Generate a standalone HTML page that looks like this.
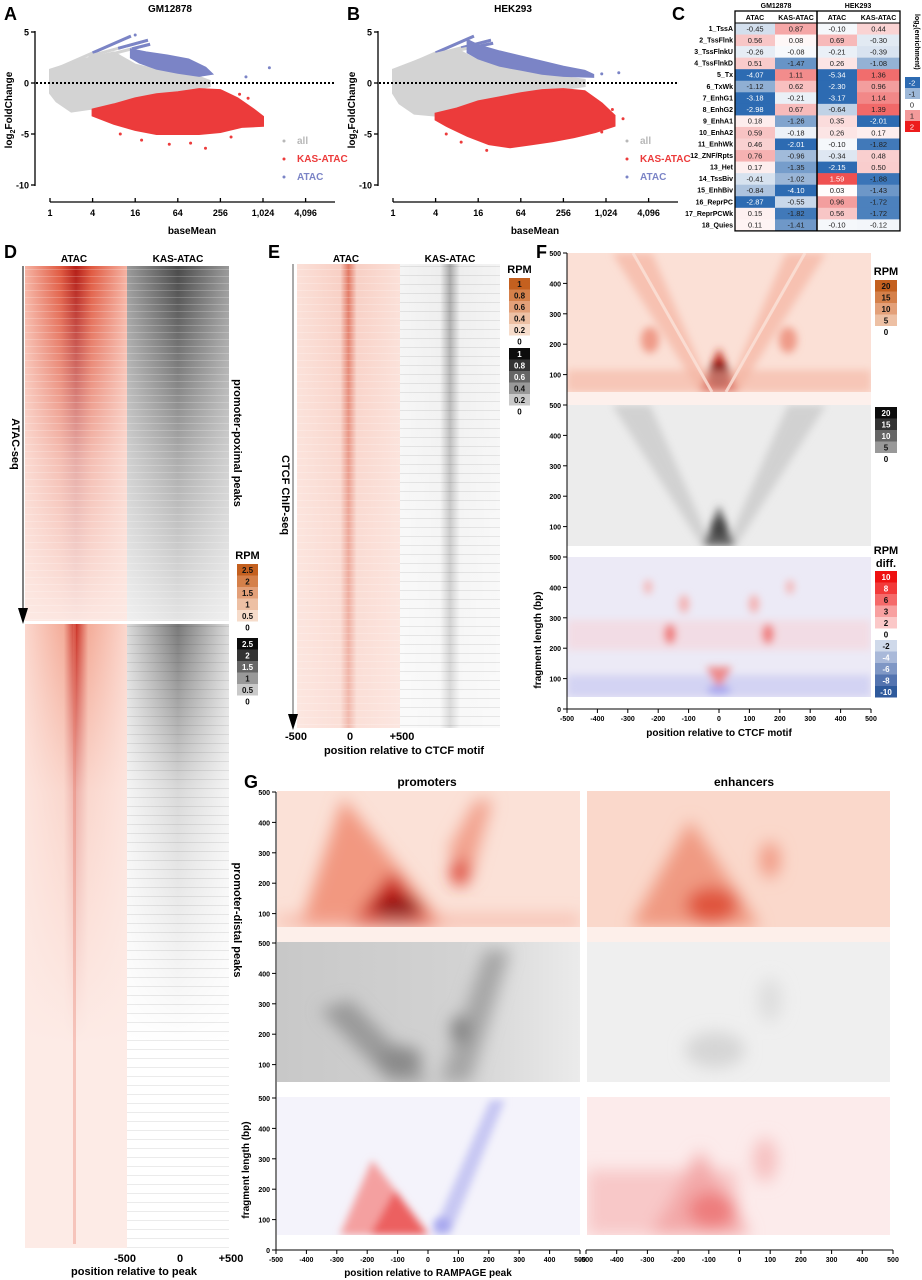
<!DOCTYPE html>
<html><head><meta charset="utf-8">
<style>
html,body{margin:0;padding:0;background:#fff;}
svg{display:block;font-family:"Liberation Sans",Arial,sans-serif;}
.b{font-weight:bold;}
</style></head>
<body>
<svg id="fig" width="922" height="1280" viewBox="0 0 922 1280" xmlns="http://www.w3.org/2000/svg">
<defs>
  <filter id="bl2" x="-20%" y="-20%" width="140%" height="140%"><feGaussianBlur stdDeviation="2"/></filter>
  <filter id="bl4" x="-30%" y="-30%" width="160%" height="160%"><feGaussianBlur stdDeviation="4"/></filter>
  <filter id="bl8" x="-50%" y="-50%" width="200%" height="200%"><feGaussianBlur stdDeviation="8"/></filter>
  <linearGradient id="dRedH" x1="0" x2="1" y1="0" y2="0">
    <stop offset="0" stop-color="#f6b3a3"/><stop offset="0.35" stop-color="#e0583f"/><stop offset="0.5" stop-color="#b41d16"/><stop offset="0.65" stop-color="#e0583f"/><stop offset="1" stop-color="#f6b3a3"/>
  </linearGradient>
  <linearGradient id="dRedN" x1="0" x2="1" y1="0" y2="0">
    <stop offset="0" stop-color="#fbd6cc"/><stop offset="0.38" stop-color="#f3a894"/><stop offset="0.5" stop-color="#c8281c"/><stop offset="0.62" stop-color="#f3a894"/><stop offset="1" stop-color="#fbd6cc"/>
  </linearGradient>
  <linearGradient id="dGreyH" x1="0" x2="1" y1="0" y2="0">
    <stop offset="0" stop-color="#9a9a9a"/><stop offset="0.5" stop-color="#4a4a4a"/><stop offset="1" stop-color="#9a9a9a"/>
  </linearGradient>
  <linearGradient id="dGreyN" x1="0" x2="1" y1="0" y2="0">
    <stop offset="0" stop-color="#d6d6d6"/><stop offset="0.5" stop-color="#6a6a6a"/><stop offset="1" stop-color="#d6d6d6"/>
  </linearGradient>
  <linearGradient id="fadeRed" x1="0" x2="0" y1="0" y2="1">
    <stop offset="0" stop-color="#fdebe6" stop-opacity="0"/><stop offset="0.55" stop-color="#fdebe6" stop-opacity="0.7"/><stop offset="1" stop-color="#fdebe6" stop-opacity="0.97"/>
  </linearGradient>
  <linearGradient id="fadeRed2" x1="0" x2="0" y1="0" y2="1">
    <stop offset="0" stop-color="#fdebe6" stop-opacity="0.05"/><stop offset="0.4" stop-color="#fdebe6" stop-opacity="0.7"/><stop offset="1" stop-color="#fdebe6" stop-opacity="1"/>
  </linearGradient>
  <linearGradient id="fadeW" x1="0" x2="0" y1="0" y2="1">
    <stop offset="0" stop-color="#fff" stop-opacity="0"/><stop offset="0.55" stop-color="#fff" stop-opacity="0.55"/><stop offset="1" stop-color="#fff" stop-opacity="0.85"/>
  </linearGradient>
  <linearGradient id="fadeW2" x1="0" x2="0" y1="0" y2="1">
    <stop offset="0" stop-color="#fff" stop-opacity="0.1"/><stop offset="0.4" stop-color="#fff" stop-opacity="0.75"/><stop offset="1" stop-color="#fff" stop-opacity="1"/>
  </linearGradient>
  <linearGradient id="eRed" x1="0" x2="1" y1="0" y2="0">
    <stop offset="0" stop-color="#fbe0d8"/><stop offset="0.42" stop-color="#f8cfc4"/><stop offset="0.5" stop-color="#e27863"/><stop offset="0.58" stop-color="#f8cfc4"/><stop offset="1" stop-color="#fbe0d8"/>
  </linearGradient>
  <linearGradient id="eGrey" x1="0" x2="1" y1="0" y2="0">
    <stop offset="0" stop-color="#f4f4f4"/><stop offset="0.4" stop-color="#eeeeee"/><stop offset="0.5" stop-color="#a9a9a9"/><stop offset="0.6" stop-color="#eeeeee"/><stop offset="1" stop-color="#f4f4f4"/>
  </linearGradient>
  <pattern id="streak" width="6" height="7" patternUnits="userSpaceOnUse">
    <rect x="0" y="3" width="6" height="1" fill="#fff" opacity="0.2"/>
  </pattern>
  <pattern id="streakD" width="6" height="9" patternUnits="userSpaceOnUse">
    <rect x="0" y="5" width="6" height="1" fill="#000" opacity="0.08"/>
  </pattern>
  <linearGradient id="gGreyBg" x1="0" x2="1" y1="0" y2="0">
    <stop offset="0" stop-color="#c8c8c8"/><stop offset="0.6" stop-color="#d2d2d2"/><stop offset="1" stop-color="#ebebeb"/>
  </linearGradient>
  <clipPath id="cF1"><rect x="567" y="253" width="304" height="139"/></clipPath>
  <clipPath id="cF2"><rect x="567" y="405" width="304" height="141"/></clipPath>
  <clipPath id="cF3"><rect x="567" y="557" width="304" height="140"/></clipPath>
  <clipPath id="cG1"><rect x="277" y="791" width="303" height="136"/></clipPath>
  <clipPath id="cG2"><rect x="277" y="942" width="303" height="140"/></clipPath>
  <clipPath id="cG3"><rect x="277" y="1097" width="303" height="138"/></clipPath>
  <clipPath id="cH1"><rect x="587" y="791" width="303" height="136"/></clipPath>
  <clipPath id="cH2"><rect x="587" y="942" width="303" height="140"/></clipPath>
  <clipPath id="cH3"><rect x="587" y="1097" width="303" height="138"/></clipPath>
</defs>

<!-- Panel labels -->
<text x="4" y="20" font-size="18" class="b">A</text>
<text x="347" y="20" font-size="18" class="b">B</text>
<text x="672" y="20" font-size="18" class="b">C</text>
<text x="4" y="258" font-size="18" class="b">D</text>
<text x="268" y="258" font-size="18" class="b">E</text>
<text x="536" y="258" font-size="18" class="b">F</text>
<text x="244" y="788" font-size="18" class="b">G</text>

<g id="panelA"></g>
<g id="panelB"></g>
<g id="panelC"></g>

<!-- Panel D -->
<g>
  <text x="74" y="262" font-size="10" class="b" text-anchor="middle">ATAC</text>
  <text x="178" y="262" font-size="10" class="b" text-anchor="middle">KAS-ATAC</text>
  <rect x="25" y="266" width="102" height="355" fill="url(#dRedH)"/>
  <rect x="25" y="266" width="102" height="355" fill="url(#fadeRed)"/>
  <rect x="25" y="266" width="102" height="355" fill="url(#streak)"/>
  <rect x="127" y="266" width="102" height="355" fill="url(#dGreyH)"/>
  <rect x="127" y="266" width="102" height="355" fill="url(#fadeW)"/>
  <rect x="127" y="266" width="102" height="355" fill="url(#streak)"/>
  <rect x="25" y="624" width="102" height="624" fill="#fdebe6"/>
  <rect x="25" y="624" width="102" height="420" fill="url(#dRedN)"/>
  <rect x="25" y="624" width="102" height="420" fill="url(#fadeRed2)"/>
  <rect x="73" y="624" width="3" height="620" fill="#e77c6a" opacity="0.35"/>
  <rect x="127" y="624" width="102" height="624" fill="#fff"/>
  <rect x="127" y="624" width="102" height="420" fill="url(#dGreyN)"/>
  <rect x="127" y="624" width="102" height="420" fill="url(#fadeW2)"/>
  <rect x="127" y="624" width="102" height="624" fill="url(#streakD)"/>
  <line x1="23" y1="266" x2="23" y2="612" stroke="#000" stroke-width="1"/>
  <polygon points="18,608 28,608 23,624" fill="#000"/>
  <text transform="translate(12,444) rotate(90)" font-size="11" class="b" text-anchor="middle">ATAC-seq</text>
  <text transform="translate(234,443) rotate(90)" font-size="11" class="b" text-anchor="middle">promoter-poximal peaks</text>
  <text transform="translate(234,920) rotate(90)" font-size="11" class="b" text-anchor="middle">promoter-distal peaks</text>
  <text x="125" y="1262" font-size="11" class="b" text-anchor="middle">-500</text>
  <text x="180" y="1262" font-size="11" class="b" text-anchor="middle">0</text>
  <text x="231" y="1262" font-size="11" class="b" text-anchor="middle">+500</text>
  <text x="134" y="1275" font-size="11" class="b" text-anchor="middle">position relative to peak</text>
  <g id="dLegend"></g>
</g>

<!-- Panel E -->
<g>
  <text x="346" y="262" font-size="10" class="b" text-anchor="middle">ATAC</text>
  <text x="450" y="262" font-size="10" class="b" text-anchor="middle">KAS-ATAC</text>
  <rect x="297" y="264" width="103" height="464" fill="url(#eRed)"/>
  <rect x="297" y="264" width="103" height="464" fill="url(#fadeRed)" opacity="0.6"/>
  <rect x="297" y="264" width="103" height="464" fill="url(#streak)"/>
  <rect x="400" y="264" width="100" height="464" fill="url(#eGrey)"/>
  <rect x="400" y="264" width="100" height="464" fill="url(#fadeW)" opacity="0.7"/>
  <rect x="400" y="264" width="100" height="464" fill="url(#streakD)"/>
  <line x1="293" y1="264" x2="293" y2="718" stroke="#555" stroke-width="1"/>
  <polygon points="288,714 298,714 293,730" fill="#000"/>
  <text transform="translate(282,495) rotate(90)" font-size="11" class="b" text-anchor="middle">CTCF ChIP-seq</text>
  <text x="296" y="740" font-size="11" class="b" text-anchor="middle">-500</text>
  <text x="350" y="740" font-size="11" class="b" text-anchor="middle">0</text>
  <text x="402" y="740" font-size="11" class="b" text-anchor="middle">+500</text>
  <text x="404" y="754" font-size="11" class="b" text-anchor="middle">position relative to CTCF motif</text>
  <g id="eLegend"></g>
</g>

<!-- Panel F -->
<g>
  <rect x="567" y="253" width="304" height="152" fill="#fdf0ec"/>
  <g clip-path="url(#cF1)">
    <rect x="567" y="253" width="304" height="139" fill="#fbe0d6"/>
    <g filter="url(#bl4)">
      <polygon points="612,253 652,253 712,392 700,392" fill="#f3ab98" opacity="0.6"/>
      <polygon points="826,253 786,253 726,392 738,392" fill="#f3ab98" opacity="0.6"/>
      <ellipse cx="650" cy="340" rx="9" ry="13" fill="#ec8a74" opacity="0.8"/>
      <ellipse cx="788" cy="340" rx="9" ry="13" fill="#ec8a74" opacity="0.8"/>
      <polygon points="700,392 738,392 719,348" fill="#c02a1e"/>
      <ellipse cx="719" cy="375" rx="11" ry="13" fill="#7a0606"/>
      <rect x="567" y="370" width="304" height="22" fill="#f3b4a2" opacity="0.6"/>
    </g>
    <line x1="633" y1="253" x2="712" y2="392" stroke="#fbe3da" stroke-width="3" opacity="0.8"/>
    <line x1="805" y1="253" x2="726" y2="392" stroke="#fbe3da" stroke-width="3" opacity="0.8"/>
  </g>
  <g clip-path="url(#cF2)">
    <rect x="567" y="405" width="304" height="141" fill="#ececec"/>
    <g filter="url(#bl4)">
      <polygon points="612,405 650,405 712,546 702,546" fill="#c6c6c6" opacity="0.7"/>
      <polygon points="826,405 788,405 726,546 736,546" fill="#c6c6c6" opacity="0.7"/>
      <polygon points="703,546 735,546 719,505" fill="#666"/>
      <ellipse cx="719" cy="528" rx="8" ry="11" fill="#444"/>
    </g>
  </g>
  <g clip-path="url(#cF3)">
    <rect x="567" y="557" width="304" height="140" fill="#eceaf6"/>
    <g filter="url(#bl4)">
      <rect x="567" y="620" width="304" height="30" fill="#f6d3d8" opacity="0.6"/>
      <rect x="567" y="675" width="304" height="22" fill="#d3d3f3"/>
      <ellipse cx="670" cy="634" rx="6" ry="10" fill="#ef8080"/>
      <ellipse cx="768" cy="634" rx="6" ry="10" fill="#ef8080"/>
      <ellipse cx="684" cy="604" rx="5" ry="9" fill="#f4b0b0"/>
      <ellipse cx="754" cy="604" rx="5" ry="9" fill="#f4b0b0"/>
      <ellipse cx="648" cy="587" rx="4" ry="7" fill="#f4b4b4"/>
      <ellipse cx="790" cy="587" rx="4" ry="7" fill="#f4b4b4"/>
      <polygon points="706,667 732,667 719,690" fill="#ee8a8a"/>
      <ellipse cx="719" cy="690" rx="12" ry="5" fill="#a9a9f0"/>
    </g>
  </g>
  <g id="fAxes"></g>
  <text transform="translate(541,640) rotate(-90)" font-size="10" class="b" text-anchor="middle">fragment length (bp)</text>
  <text x="719" y="736" font-size="10" class="b" text-anchor="middle">position relative to CTCF motif</text>
  <g id="fLegend"></g>
</g>

<!-- Panel G -->
<g>
  <text x="427" y="786" font-size="12" class="b" text-anchor="middle">promoters</text>
  <text x="744" y="786" font-size="12" class="b" text-anchor="middle">enhancers</text>
  <rect x="277" y="791" width="303" height="152" fill="#fdefea"/>
  <rect x="587" y="791" width="303" height="152" fill="#fdefea"/>
  <g clip-path="url(#cG1)">
    <rect x="277" y="791" width="303" height="136" fill="#fbe1d7"/>
    <g filter="url(#bl8)">
      <polygon points="300,927 446,927 343,798" fill="#f08b72" opacity="0.85"/>
      <polygon points="350,927 436,927 392,872" fill="#c9231a"/>
      <ellipse cx="398" cy="910" rx="22" ry="14" fill="#8e0a0a"/>
      <polygon points="448,850 476,800 492,800 470,880" fill="#f2a08c"/>
      <ellipse cx="460" cy="872" rx="9" ry="14" fill="#dc3a2c"/>
      <rect x="277" y="915" width="303" height="12" fill="#f4a896" opacity="0.6"/>
    </g>
  </g>
  <g clip-path="url(#cG2)">
    <rect x="277" y="942" width="303" height="140" fill="url(#gGreyBg)"/>
    <g filter="url(#bl8)">
      <polygon points="320,1010 350,1000 430,1082 390,1082" fill="#9a9a9a"/>
      <polygon points="440,1082 470,1082 510,950 485,950" fill="#a6a6a6"/>
      <ellipse cx="460" cy="1030" rx="9" ry="14" fill="#7d7d7d"/>
      <ellipse cx="400" cy="1060" rx="22" ry="14" fill="#8a8a8a"/>
    </g>
  </g>
  <g clip-path="url(#cG3)">
    <rect x="277" y="1097" width="303" height="138" fill="#f4f3fb"/>
    <g filter="url(#bl4)">
      <polygon points="340,1235 430,1235 372,1160" fill="#f4a0a0"/>
      <polygon points="370,1235 428,1235 395,1190" fill="#ec6060"/>
      <polygon points="432,1235 450,1235 505,1100 490,1100" fill="#c7c7f3"/>
      <ellipse cx="442" cy="1225" rx="9" ry="8" fill="#a9a9ef"/>
    </g>
  </g>
  <g clip-path="url(#cH1)">
    <rect x="587" y="791" width="303" height="136" fill="#fad8cb"/>
    <g filter="url(#bl8)">
      <polygon points="630,927 760,927 690,820" fill="#f09a82"/>
      <ellipse cx="712" cy="905" rx="26" ry="18" fill="#e0553e"/>
      <ellipse cx="770" cy="860" rx="10" ry="18" fill="#f19a84"/>
    </g>
  </g>
  <g clip-path="url(#cH2)">
    <rect x="587" y="942" width="303" height="140" fill="#efefef"/>
    <g filter="url(#bl8)">
      <ellipse cx="715" cy="1050" rx="30" ry="18" fill="#d6d6d6"/>
      <ellipse cx="770" cy="1000" rx="12" ry="22" fill="#dedede"/>
    </g>
  </g>
  <g clip-path="url(#cH3)">
    <rect x="587" y="1097" width="303" height="138" fill="#fcebeb"/>
    <g filter="url(#bl8)">
      <rect x="587" y="1170" width="150" height="65" fill="#f8c8c8"/>
      <polygon points="650,1235 750,1235 700,1150" fill="#f3a9a9"/>
      <ellipse cx="712" cy="1210" rx="24" ry="18" fill="#ee7d7d"/>
      <ellipse cx="765" cy="1160" rx="12" ry="22" fill="#f6c0c0"/>
    </g>
  </g>
  <g id="gAxes"></g>
  <text transform="translate(249,1170) rotate(-90)" font-size="10" class="b" text-anchor="middle">fragment length (bp)</text>
  <text x="428" y="1276" font-size="10" class="b" text-anchor="middle">position relative to RAMPAGE peak</text>
</g>
</svg>

<script>
// ---------- Panel A / B data ----------
const maTickPos = [0, 2, 4, 6, 8, 10, 12];
const maTickLabels = ['1', '4', '16', '64', '256', '1,024', '4,096'];
const maYTicks = [5, 0, -5, -10];
const aGrayTop = [[0,1.3],[1.5,2.3],[3,3.0],[4,1.8],[5,1.3],[6,1.0],[7,0.6],[7.5,0.2]];
const aGrayBot = [[7.5,-0.3],[7,-0.6],[6,-0.9],[5,-1.1],[4,-1.5],[3,-2.0],[2,-2.5],[1,-2.8],[0.3,-1.8],[0,-1.0]];
const aBlueTop = [[3.8,3.3],[4.5,3.0],[5.5,2.7],[6.5,2.3],[7.3,1.5],[7.6,0.9]];
const aBlueBot = [[7.6,0.9],[7,0.7],[6,1.0],[5,1.4],[4.2,2.0],[3.8,2.5]];
const aRedTop = [[2,-2.6],[3,-2.1],[4,-1.5],[5,-1.1],[6,-0.9],[7,-0.6],[8,-0.7],[8.8,-1.5],[9.5,-2.5],[10,-3.3]];
const aRedBot = [[10,-4.2],[9,-4.3],[8,-4.8],[7,-5.0],[6,-5.0],[5,-5.0],[4,-4.6],[3,-4.0],[2,-3.2]];
const aBlueLines = [[[0.2,1.3],[3.8,4.6]],[[1.8,2.6],[4.6,4.2]],[[3,2.9],[4.7,3.8]]];
const aRedPts = [[4.3,-5.6],[5.6,-6.0],[6.6,-5.9],[7.3,-6.4],[8.5,-5.3],[9.5,-4.0],[9.3,-1.5],[8.9,-1.1],[3.3,-5.0]];
const aBluePts = [[9.2,0.6],[10.3,1.5],[4.0,4.7]];

const bGrayTop = [[0,1.3],[1.5,2.5],[3,3.3],[4,2.2],[5,1.6],[6,1.2],[7,0.9],[8,0.6],[9,0.3]];
const bGrayBot = [[9,-0.3],[8,-0.6],[7,-0.9],[6,-1.2],[5,-1.5],[4,-2.0],[3,-2.5],[2,-3.2],[1,-3.0],[0.3,-2.0],[0,-1.0]];
const bBlueTop = [[3.5,4.2],[4,3.7],[5,3.1],[6,2.6],[7,2.1],[8,1.6],[9,1.2],[9.4,0.8]];
const bBlueBot = [[9.4,0.6],[8,0.7],[7,0.9],[6,1.3],[5,1.7],[4,2.4],[3.5,3.0]];
const bRedTop = [[2,-3.0],[3,-2.5],[4,-1.8],[5,-1.4],[6,-1.0],[7,-0.7],[8,-0.6],[9,-0.8],[9.8,-2.0],[10.4,-3.2]];
const bRedBot = [[10.4,-4.2],[9.5,-4.8],[8.5,-5.3],[7.5,-5.7],[6.5,-6.0],[5.5,-6.3],[4.5,-6.0],[3.5,-5.2],[2.5,-4.2],[2,-3.6]];
const bBlueLines = [[[0.2,1.3],[3.8,4.6]],[[1.8,2.7],[4.6,4.2]],[[3,3.2],[4.7,3.9]]];
const bRedPts = [[2.5,-5.0],[3.2,-5.8],[4.4,-6.6],[9.8,-4.8],[10.3,-2.6],[10.8,-3.5]];
const bBluePts = [[9.8,0.9],[10.6,1.0]];

// ---------- Panel C data ----------
const cStates = ['1_TssA','2_TssFlnk','3_TssFlnkU','4_TssFlnkD','5_Tx','6_TxWk','7_EnhG1','8_EnhG2','9_EnhA1','10_EnhA2','11_EnhWk','12_ZNF/Rpts','13_Het','14_TssBiv','15_EnhBiv','16_ReprPC','17_ReprPCWk','18_Quies'];
const cGmAtac = [-0.45,0.56,-0.26,0.51,-4.07,-1.12,-3.18,-2.98,0.18,0.59,0.46,0.76,0.17,-0.41,-0.84,-2.87,0.15,0.11];
const cGmKas = [0.87,0.08,-0.08,-1.47,1.11,0.62,-0.21,0.67,-1.26,-0.18,-2.01,-0.96,-1.35,-1.02,-4.10,-0.55,-1.82,-1.41];
const cHekAtac = [-0.10,0.69,-0.21,0.26,-5.34,-2.30,-3.17,-0.64,0.35,0.26,-0.10,-0.34,-2.15,1.59,0.03,0.96,0.56,-0.10];
const cHekKas = [0.44,-0.30,-0.39,-1.08,1.36,0.96,1.14,1.39,-2.01,0.17,-1.82,0.48,0.50,-1.88,-1.43,-1.72,-1.72,-0.12];
const cLegendVals = [-2,-1,0,1,2];

// ---------- colorbar data ----------
const dRpmLabels = ['2.5','2','1.5','1','0.5'];
const eRpmLabels = ['1','0.8','0.6','0.4','0.2'];
const fRpmLabels = ['20','15','10','5'];
const fDiffPos = ['10','8','6','3','2'];
const fDiffNeg = ['-2','-4','-6','-8','-10'];
const vTicks = [0,100,200,300,400,500];
const vXTicks = [-500,-400,-300,-200,-100,0,100,200,300,400,500];

const NS = 'http://www.w3.org/2000/svg';
function mk(parent, tag, attrs, txt) {
  const e = document.createElementNS(NS, tag);
  for (const k in attrs) e.setAttribute(k, attrs[k]);
  if (txt !== undefined) e.textContent = txt;
  parent.appendChild(e);
  return e;
}

function drawMA(gid, dx, title, gray, blue, red, blueLines, redPts, bluePts) {
  const g = document.getElementById(gid);
  const X = l => dx + 50 + l * 21.3;
  const Y = v => 83 - v * 10.2;
  const pts = arr => arr.map(p => X(p[0]).toFixed(1) + ',' + Y(p[1]).toFixed(1)).join(' ');
  const t = mk(g, 'text', {x: dx + 170, y: 12, 'font-size': 10, 'font-weight': 'bold', 'text-anchor': 'middle'}, title);
  
  
  const gp = mk(g, 'polygon', {points: pts(gray[0].concat(gray[1])), fill: '#d3d3d3', stroke: '#d3d3d3', 'stroke-width': 2});
  
  
  blueLines.forEach(ln => {
    const l = mk(g, 'line', {x1: X(ln[0][0]), y1: Y(ln[0][1]), x2: X(ln[1][0]), y2: Y(ln[1][1]), stroke: '#d3d3d3', 'stroke-width': 3});
    
    
    const lb = mk(g, 'line', {x1: (X(ln[0][0]) + X(ln[1][0])) / 2, y1: (Y(ln[0][1]) + Y(ln[1][1])) / 2, x2: X(ln[1][0]), y2: Y(ln[1][1]), stroke: '#7b84c6', 'stroke-width': 3});
    
    
  });
  const bp = mk(g, 'polygon', {points: pts(blue[0].concat(blue[1])), fill: '#7b84c6', stroke: '#7b84c6', 'stroke-width': 2});
  
  
  const rp = mk(g, 'polygon', {points: pts(red[0].concat(red[1])), fill: '#ec3b3b', stroke: '#ec3b3b', 'stroke-width': 2});
  
  
  redPts.forEach(p => {
    const c = mk(g, 'circle', {cx: X(p[0]), cy: Y(p[1]), r: 1.5, fill: '#ec3b3b'});
    
    
  });
  bluePts.forEach(p => {
    const c = mk(g, 'circle', {cx: X(p[0]), cy: Y(p[1]), r: 1.5, fill: '#7b84c6'});
    
    
  });
  const zl = mk(g, 'line', {x1: dx + 36, y1: Y(0), x2: dx + 335, y2: Y(0), stroke: '#000', 'stroke-width': 2, 'stroke-dasharray': '2,2'});
  
  
  mk(g, 'line', {x1: dx + 35, y1: Y(5) - 1, x2: dx + 35, y2: Y(-10) + 1, stroke: '#000', 'stroke-width': 1.3});
  maYTicks.forEach(v => {
    mk(g, 'line', {x1: dx + 31, y1: Y(v), x2: dx + 35, y2: Y(v), stroke: '#000', 'stroke-width': 1.3});
    const tl = mk(g, 'text', {x: dx + 29, y: Y(v) + 3.5, 'font-size': 9, 'font-weight': 'bold', 'text-anchor': 'end'}, String(v));
    
    
  });
  const yt = mk(g, 'text', {transform: `translate(${dx + 12},110) rotate(-90)`, 'font-size': 10, 'font-weight': 'bold', 'text-anchor': 'middle'});
  
  
  yt.innerHTML = 'log<tspan font-size="7" dy="3">2</tspan><tspan dy="-3">FoldChange</tspan>';
  mk(g, 'line', {x1: X(0), y1: 202, x2: dx + 335, y2: 202, stroke: '#000', 'stroke-width': 1.3});
  maTickPos.forEach((l, i) => {
    mk(g, 'line', {x1: X(l), y1: 198, x2: X(l), y2: 202, stroke: '#000', 'stroke-width': 1.3});
    const tl = mk(g, 'text', {x: X(l), y: 216, 'font-size': 9, 'font-weight': 'bold', 'text-anchor': 'middle'}, maTickLabels[i]);
    
    
  });
  const xt = mk(g, 'text', {x: dx + 192, y: 234, 'font-size': 10, 'font-weight': 'bold', 'text-anchor': 'middle'}, 'baseMean');
  
  
  const leg = [['all', '#b8b8b8'], ['KAS-ATAC', '#ec3b3b'], ['ATAC', '#7b84c6']];
  leg.forEach((e, i) => {
    const c = mk(g, 'circle', {cx: dx + 284, cy: 141 + i * 18, r: 1.5, fill: e[1]});
    
    
    const tl = mk(g, 'text', {x: dx + 297, y: 144 + i * 18, 'font-size': 10, 'font-weight': 'bold', fill: e[1]}, e[0]);
    
    
  });
}
drawMA('panelA', 0, 'GM12878', [aGrayTop, aGrayBot], [aBlueTop, aBlueBot], [aRedTop, aRedBot], aBlueLines, aRedPts, aBluePts);
drawMA('panelB', 343, 'HEK293', [bGrayTop, bGrayBot], [bBlueTop, bBlueBot], [bRedTop, bRedBot], bBlueLines, bRedPts, bBluePts);

// ---------- Panel C ----------
function enrichColor(v) {
  const c = Math.max(-2, Math.min(2, v));
  const neg = [[255,255,255],[157,184,216],[45,107,178]];
  const pos = [[255,255,255],[243,154,154],[237,28,28]];
  const arr = c < 0 ? neg : pos;
  const a = Math.abs(c);
  const i = Math.min(1, Math.floor(a));
  const f = a - i;
  const col = arr[i].map((x, k) => Math.round(x + (arr[i + 1][k] - x) * f));
  return `rgb(${col[0]},${col[1]},${col[2]})`;
}
(function drawC() {
  const g = document.getElementById('panelC');
  const colX = [735, 775, 817, 857, 900];
  const cols = [cGmAtac, cGmKas, cHekAtac, cHekKas];
  const colNames = ['ATAC', 'KAS-ATAC', 'ATAC', 'KAS-ATAC'];
  const top = 23, rh = 11.55;
  const g1 = mk(g, 'text', {x: 776, y: 8, 'font-size': 7, 'font-weight': 'bold', 'text-anchor': 'middle'}, 'GM12878');
  
  
  const g2 = mk(g, 'text', {x: 858, y: 8, 'font-size': 7, 'font-weight': 'bold', 'text-anchor': 'middle'}, 'HEK293');
  
  
  colNames.forEach((n, j) => {
    const t = mk(g, 'text', {x: (colX[j] + colX[j + 1]) / 2, y: 20, 'font-size': 7, 'font-weight': 'bold', 'text-anchor': 'middle'}, n);
    
    
  });
  cStates.forEach((s, i) => {
    const y = top + i * rh;
    const t = mk(g, 'text', {x: 733, y: y + 8, 'font-size': 7, 'font-weight': 'bold', 'text-anchor': 'end'}, s);
    
    
    cols.forEach((arr, j) => {
      const v = arr[i];
      const r = mk(g, 'rect', {x: colX[j], y: y, width: colX[j + 1] - colX[j], height: rh + 0.3, fill: enrichColor(v)});
      
      
      const white = v <= -2 || v >= 1.5;
      const tv = mk(g, 'text', {x: (colX[j] + colX[j + 1]) / 2, y: y + 8.3, 'font-size': 7.5, 'text-anchor': 'middle', fill: white ? '#fff' : '#222'}, v.toFixed(2));
      
      
    });
  });
  const bot = top + cStates.length * rh;
  mk(g, 'rect', {x: 735, y: 11, width: 165, height: bot - 11, fill: 'none', stroke: '#000', 'stroke-width': 1.3});
  mk(g, 'line', {x1: 735, y1: top, x2: 900, y2: top, stroke: '#000', 'stroke-width': 1});
  mk(g, 'line', {x1: 817, y1: 11, x2: 817, y2: bot, stroke: '#000', 'stroke-width': 1.5});
  cLegendVals.forEach((v, i) => {
    const y = 77 + i * 11;
    if (v !== 0) {
      const r = mk(g, 'rect', {x: 905, y: y, width: 15, height: 11, fill: enrichColor(v)});
      
      
    }
    const t = mk(g, 'text', {x: 912, y: y + 8.5, 'font-size': 7.5, 'text-anchor': 'middle', fill: (v === -2 || v === 2) ? '#fff' : '#222'}, String(v));
    
    
  });
  const lt = mk(g, 'text', {transform: 'translate(915,14) rotate(90)', 'font-size': 7, 'font-weight': 'bold'});
  
  
  lt.innerHTML = 'log<tspan font-size="5" dy="2">2</tspan><tspan dy="-2">(enrichment)</tspan>';
})();

// ---------- colorbars ----------
function colorbar(gid, x, y0, w, h, labels, colors, textColors, zeroLabel, title, title2) {
  const g = document.getElementById(gid);
  let y = y0;
  if (title) {
    const t = mk(g, 'text', {x: x + w / 2, y: y0 - 5 - (title2 ? 12 : 0), 'font-size': 11, 'font-weight': 'bold', 'text-anchor': 'middle'}, title);
    
    
    if (title2) {
      const t2 = mk(g, 'text', {x: x + w / 2, y: y0 - 4, 'font-size': 11, 'font-weight': 'bold', 'text-anchor': 'middle'}, title2);
      
      
    }
  }
  labels.forEach((l, i) => {
    const r = mk(g, 'rect', {x: x, y: y, width: w, height: h, fill: colors[i]});
    
    
    const t = mk(g, 'text', {x: x + w / 2, y: y + h - 2.5, 'font-size': 8, 'font-weight': 'bold', 'text-anchor': 'middle', fill: textColors[i]}, l);
    
    
    y += h;
  });
  if (zeroLabel) {
    const t = mk(g, 'text', {x: x + w / 2, y: y + 9, 'font-size': 8, 'font-weight': 'bold', 'text-anchor': 'middle'}, zeroLabel);
    
    
  }
}
const orange = ['#c4601f', '#d5804a', '#e3a079', '#edc0a4', '#f6dccb'];
const greys = ['#0c0c0c', '#333', '#666', '#999', '#c9c9c9'];
const blkTxt = ['#fff', '#fff', '#fff', '#111', '#111'];
const orTxt = ['#111', '#111', '#111', '#111', '#111'];
colorbar('dLegend', 237, 564, 21, 11.5, dRpmLabels, orange, orTxt, '0', 'RPM');
colorbar('dLegend', 237, 638, 21, 11.5, dRpmLabels, greys, blkTxt, '0');
colorbar('eLegend', 509, 278, 21, 11.5, eRpmLabels, orange, orTxt, '0', 'RPM');
colorbar('eLegend', 509, 348, 21, 11.5, eRpmLabels, greys, blkTxt, '0');
colorbar('fLegend', 875, 280, 22, 11.5, fRpmLabels, orange.slice(0, 4), orTxt, '0', 'RPM');
colorbar('fLegend', 875, 407, 22, 11.5, fRpmLabels, greys.slice(0, 4), blkTxt, '0');
colorbar('fLegend', 875, 571, 22, 11.5, fDiffPos, ['#ee1111', '#f23a3a', '#f56a6a', '#f8a0a0', '#fbc8c8'], ['#fff', '#fff', '#111', '#111', '#111'], '0', 'RPM', 'diff.');
colorbar('fLegend', 875, 640, 22, 11.5, fDiffNeg, ['#cfd9ea', '#a9b9d9', '#7f97c5', '#5474b0', '#2f5a9c'], ['#111', '#fff', '#fff', '#fff', '#fff'], null);

// ---------- V-plot axes ----------
function vAxes(gid, axX, x0, x1, panels0, xAxisY) {
  const g = document.getElementById(gid);
  const ppb = 0.304;
  panels0.forEach(base => {
    vTicks.forEach(t => {
      if (t === 0 && base !== panels0[panels0.length - 1]) return;
      const y = base - t * ppb;
      mk(g, 'line', {x1: axX - 4, y1: y, x2: axX, y2: y, stroke: '#000', 'stroke-width': 1});
      const tl = mk(g, 'text', {x: axX - 6, y: y + 3, 'font-size': 7, 'font-weight': 'bold', 'text-anchor': 'end'}, String(t));
      
      
    });
  });
  mk(g, 'line', {x1: axX, y1: panels0[0] - 500 * ppb, x2: axX, y2: xAxisY, stroke: '#000', 'stroke-width': 1});
  x0.forEach((xs, k) => {
    const xe = x1[k];
    mk(g, 'line', {x1: xs, y1: xAxisY, x2: xe, y2: xAxisY, stroke: '#000', 'stroke-width': 1});
    vXTicks.forEach(t => {
      const x = xs + (t + 500) / 1000 * (xe - xs);
      mk(g, 'line', {x1: x, y1: xAxisY, x2: x, y2: xAxisY + 4, stroke: '#000', 'stroke-width': 1});
      const tl = mk(g, 'text', {x: x, y: xAxisY + 12, 'font-size': 7, 'font-weight': 'bold', 'text-anchor': 'middle'}, String(t));
      
      
    });
  });
}
vAxes('fAxes', 567, [567], [871], [405, 557, 709], 709);
vAxes('gAxes', 276, [276, 586], [580, 893], [944, 1095, 1250], 1250);
</script>
</body></html>
